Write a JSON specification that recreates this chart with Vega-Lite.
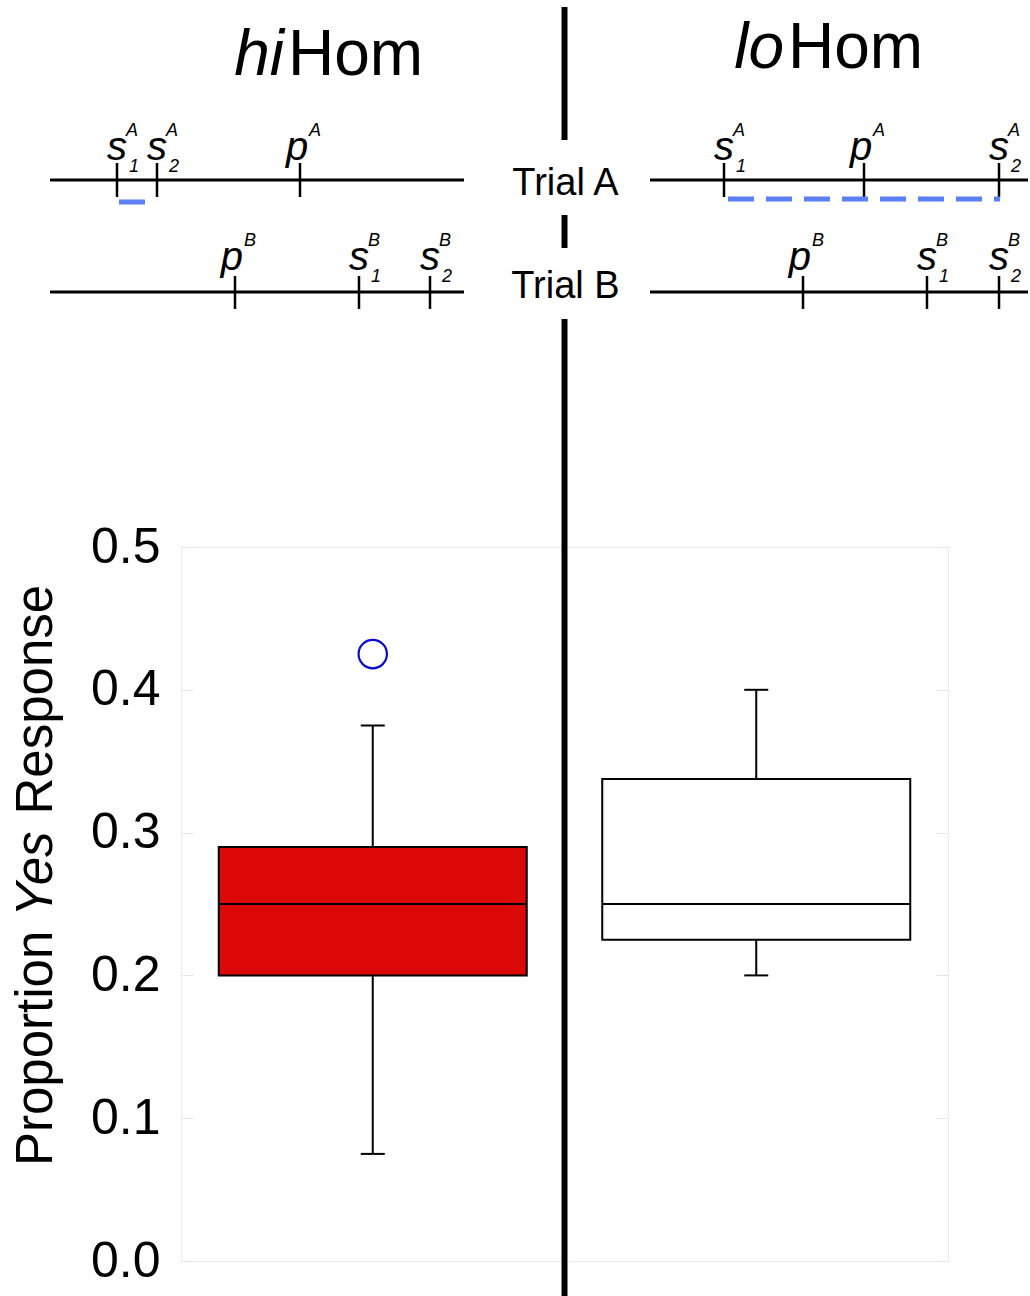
{
  "$schema": "https://vega.github.io/schema/vega-lite/v6.json",
  "width": 767,
  "height": 714,
  "autosize": {"type": "none"},
  "padding": {"left": 181, "top": 547, "right": 82, "bottom": 35},
  "background": "white",
  "config": {
    "view": {"stroke": "#e8e8f6", "strokeWidth": 1},
    "font": "Liberation Sans",
    "text": {"font": "Liberation Sans", "color": "black"},
    "scale": {"continuousPadding": 0}
  },
  "datasets": {
    "boxes": [
      {"cond": "hiHom", "pos": 1, "lower": 0.075, "q1": 0.2, "median": 0.25, "q3": 0.29, "upper": 0.375},
      {"cond": "loHom", "pos": 2, "lower": 0.2, "q1": 0.225, "median": 0.25, "q3": 0.3375, "upper": 0.4}
    ],
    "outliers": [
      {"cond": "hiHom", "pos": 1, "value": 0.425}
    ],
    "divider": [
      {"pos": 1.5, "top": 0.8782, "bottom": 0.785},
      {"pos": 1.5, "top": 0.7325, "bottom": 0.7094},
      {"pos": 1.5, "top": 0.6597, "bottom": -0.03}
    ],
    "numberLines": [
      {"panel": "hiHom", "trial": "A", "start": 0.1584, "end": 1.2379, "level": 0.757},
      {"panel": "hiHom", "trial": "B", "start": 0.1584, "end": 1.2379, "level": 0.6786},
      {"panel": "loHom", "trial": "A", "start": 1.7229, "end": 2.7086, "level": 0.757},
      {"panel": "loHom", "trial": "B", "start": 1.7229, "end": 2.7086, "level": 0.6786}
    ],
    "stimuli": [
      {"panel": "hiHom", "trial": "A", "glyph": "s", "sup": "A", "sub": "1", "pos": 0.3331, "top": 0.7689, "bottom": 0.7451, "base": 0.771},
      {"panel": "hiHom", "trial": "A", "glyph": "s", "sup": "A", "sub": "2", "pos": 0.4374, "top": 0.7689, "bottom": 0.7451, "base": 0.771},
      {"panel": "hiHom", "trial": "A", "glyph": "p", "sup": "A", "sub": "", "pos": 0.8103, "top": 0.7689, "bottom": 0.7451, "base": 0.771},
      {"panel": "hiHom", "trial": "B", "glyph": "p", "sup": "B", "sub": "", "pos": 0.6408, "top": 0.6898, "bottom": 0.6667, "base": 0.694},
      {"panel": "hiHom", "trial": "B", "glyph": "s", "sup": "B", "sub": "1", "pos": 0.9641, "top": 0.6898, "bottom": 0.6667, "base": 0.694},
      {"panel": "hiHom", "trial": "B", "glyph": "s", "sup": "B", "sub": "2", "pos": 1.1493, "top": 0.6898, "bottom": 0.6667, "base": 0.694},
      {"panel": "loHom", "trial": "A", "glyph": "s", "sup": "A", "sub": "1", "pos": 1.9159, "top": 0.7689, "bottom": 0.7451, "base": 0.771},
      {"panel": "loHom", "trial": "A", "glyph": "p", "sup": "A", "sub": "", "pos": 2.281, "top": 0.7689, "bottom": 0.7451, "base": 0.771},
      {"panel": "loHom", "trial": "A", "glyph": "s", "sup": "A", "sub": "2", "pos": 2.633, "top": 0.7689, "bottom": 0.7451, "base": 0.771},
      {"panel": "loHom", "trial": "B", "glyph": "p", "sup": "B", "sub": "", "pos": 2.1219, "top": 0.6898, "bottom": 0.6667, "base": 0.694},
      {"panel": "loHom", "trial": "B", "glyph": "s", "sup": "B", "sub": "1", "pos": 2.4452, "top": 0.6898, "bottom": 0.6667, "base": 0.694},
      {"panel": "loHom", "trial": "B", "glyph": "s", "sup": "B", "sub": "2", "pos": 2.633, "top": 0.6898, "bottom": 0.6667, "base": 0.694}
    ],
    "solidRange": [
      {"panel": "hiHom", "start": 0.3383, "end": 0.4061, "level": 0.7416}
    ],
    "dashedRange": [
      {"panel": "loHom", "start": 1.9263, "end": 2.6356, "level": 0.7437}
    ],
    "titles": [
      {"italic": "hi", "roman": "Hom", "pos": 0.7686, "base": 0.8305},
      {"italic": "lo", "roman": "Hom", "pos": 2.0724, "base": 0.8354}
    ],
    "trials": [
      {"label": "Trial A", "pos": 1.5, "base": 0.7465},
      {"label": "Trial B", "pos": 1.5, "base": 0.6744}
    ],
    "yTitle": [
      {"word": "Proportion", "style": "roman", "pos": 0.1636, "at": 0.0665},
      {"word": "Yes", "style": "italic", "pos": 0.1636, "at": 0.2412},
      {"word": "Response", "style": "roman", "pos": 0.1636, "at": 0.3127}
    ]
  },
  "resolve": {"axis": {"y": "independent"}},
  "layer": [
    {
      "data": {"name": "boxes"},
      "mark": {"type": "rule", "color": "black", "strokeWidth": 2},
      "encoding": {
        "x": {"field": "pos", "type": "quantitative", "scale": {"domain": [0.5, 2.5], "nice": false, "zero": false, "padding": 0}, "axis": null},
        "y": {"field": "upper", "type": "quantitative", "scale": {"domain": [0, 0.5], "nice": false, "zero": false, "padding": 0},
          "axis": {"orient": "left", "values": [0, 0.1, 0.2, 0.3, 0.4, 0.5], "format": ".1f", "labelFontSize": 50, "labelColor": "black", "labelFont": "Liberation Sans", "labelPadding": 33, "tickSize": -12, "tickColor": "#e4e4f4", "tickWidth": 1, "domain": false, "grid": false, "title": null}},
        "y2": {"field": "lower"}
      }
    },
    {
      "data": {"name": "boxes"},
      "mark": {"type": "bar", "size": 308, "stroke": "black", "strokeWidth": 2},
      "encoding": {
        "x": {"field": "pos", "type": "quantitative", "scale": {"domain": [0.5, 2.5], "nice": false, "zero": false, "padding": 0}, "axis": null},
        "y": {"field": "q1", "type": "quantitative", "scale": {"domain": [0, 0.5], "nice": false, "zero": false, "padding": 0},
          "axis": {"orient": "right", "values": [0, 0.1, 0.2, 0.3, 0.4, 0.5], "labels": false, "tickSize": -12, "tickColor": "#e4e4f4", "tickWidth": 1, "domain": false, "grid": false, "title": null}},
        "y2": {"field": "q3"},
        "color": {"field": "cond", "type": "nominal", "scale": {"domain": ["hiHom", "loHom"], "range": ["#dc0707", "#ffffff"]}, "legend": null}
      }
    },
    {
      "data": {"name": "boxes"},
      "mark": {"type": "tick", "orient": "horizontal", "size": 308, "thickness": 2, "color": "black", "opacity": 1},
      "encoding": {
        "x": {"field": "pos", "type": "quantitative", "scale": {"domain": [0.5, 2.5], "nice": false, "zero": false, "padding": 0}, "axis": null},
        "y": {"field": "median", "type": "quantitative", "scale": {"domain": [0, 0.5], "nice": false, "zero": false, "padding": 0}, "axis": null}
      }
    },
    {
      "data": {"name": "boxes"},
      "mark": {"type": "tick", "orient": "horizontal", "size": 24, "thickness": 2, "color": "black", "opacity": 1},
      "encoding": {
        "x": {"field": "pos", "type": "quantitative", "scale": {"domain": [0.5, 2.5], "nice": false, "zero": false, "padding": 0}, "axis": null},
        "y": {"field": "upper", "type": "quantitative", "scale": {"domain": [0, 0.5], "nice": false, "zero": false, "padding": 0}, "axis": null}
      }
    },
    {
      "data": {"name": "boxes"},
      "mark": {"type": "tick", "orient": "horizontal", "size": 24, "thickness": 2, "color": "black", "opacity": 1},
      "encoding": {
        "x": {"field": "pos", "type": "quantitative", "scale": {"domain": [0.5, 2.5], "nice": false, "zero": false, "padding": 0}, "axis": null},
        "y": {"field": "lower", "type": "quantitative", "scale": {"domain": [0, 0.5], "nice": false, "zero": false, "padding": 0}, "axis": null}
      }
    },
    {
      "data": {"name": "outliers"},
      "mark": {"type": "point", "shape": "circle", "filled": false, "size": 804, "stroke": "#0a0acc", "strokeWidth": 2.2, "opacity": 1},
      "encoding": {
        "x": {"field": "pos", "type": "quantitative", "scale": {"domain": [0.5, 2.5], "nice": false, "zero": false, "padding": 0}, "axis": null},
        "y": {"field": "value", "type": "quantitative", "scale": {"domain": [0, 0.5], "nice": false, "zero": false, "padding": 0}, "axis": null}
      }
    },
    {
      "data": {"name": "divider"},
      "mark": {"type": "rule", "color": "black", "strokeWidth": 6},
      "encoding": {
        "x": {"field": "pos", "type": "quantitative", "scale": {"domain": [0.5, 2.5], "nice": false, "zero": false, "padding": 0}, "axis": null},
        "y": {"field": "top", "type": "quantitative", "scale": {"domain": [0, 0.5], "nice": false, "zero": false, "padding": 0}, "axis": null},
        "y2": {"field": "bottom"}
      }
    },
    {
      "data": {"name": "numberLines"},
      "mark": {"type": "rule", "color": "black", "strokeWidth": 3},
      "encoding": {
        "x": {"field": "start", "type": "quantitative", "scale": {"domain": [0.5, 2.5], "nice": false, "zero": false, "padding": 0}, "axis": null},
        "x2": {"field": "end"},
        "y": {"field": "level", "type": "quantitative", "scale": {"domain": [0, 0.5], "nice": false, "zero": false, "padding": 0}, "axis": null}
      }
    },
    {
      "data": {"name": "stimuli"},
      "mark": {"type": "rule", "color": "black", "strokeWidth": 2.5},
      "encoding": {
        "x": {"field": "pos", "type": "quantitative", "scale": {"domain": [0.5, 2.5], "nice": false, "zero": false, "padding": 0}, "axis": null},
        "y": {"field": "top", "type": "quantitative", "scale": {"domain": [0, 0.5], "nice": false, "zero": false, "padding": 0}, "axis": null},
        "y2": {"field": "bottom"}
      }
    },
    {
      "data": {"name": "solidRange"},
      "mark": {"type": "rule", "color": "#5b80f5", "strokeWidth": 5},
      "encoding": {
        "x": {"field": "start", "type": "quantitative", "scale": {"domain": [0.5, 2.5], "nice": false, "zero": false, "padding": 0}, "axis": null},
        "x2": {"field": "end"},
        "y": {"field": "level", "type": "quantitative", "scale": {"domain": [0, 0.5], "nice": false, "zero": false, "padding": 0}, "axis": null}
      }
    },
    {
      "data": {"name": "dashedRange"},
      "mark": {"type": "rule", "color": "#5b80f5", "strokeWidth": 5, "strokeDash": [26, 12]},
      "encoding": {
        "x": {"field": "start", "type": "quantitative", "scale": {"domain": [0.5, 2.5], "nice": false, "zero": false, "padding": 0}, "axis": null},
        "x2": {"field": "end"},
        "y": {"field": "level", "type": "quantitative", "scale": {"domain": [0, 0.5], "nice": false, "zero": false, "padding": 0}, "axis": null}
      }
    },
    {
      "data": {"name": "stimuli"},
      "transform": [{"filter": "datum.glyph == 's'"}],
      "mark": {"type": "text", "fontSize": 40, "fontStyle": "italic", "align": "center", "baseline": "alphabetic", "dx": 0},
      "encoding": {
        "x": {"field": "pos", "type": "quantitative", "scale": {"domain": [0.5, 2.5], "nice": false, "zero": false, "padding": 0}, "axis": null},
        "y": {"field": "base", "type": "quantitative", "scale": {"domain": [0, 0.5], "nice": false, "zero": false, "padding": 0}, "axis": null},
        "text": {"field": "glyph"}
      }
    },
    {
      "data": {"name": "stimuli"},
      "transform": [{"filter": "datum.glyph == 'p'"}],
      "mark": {"type": "text", "fontSize": 40, "fontStyle": "italic", "align": "center", "baseline": "alphabetic", "dx": -3},
      "encoding": {
        "x": {"field": "pos", "type": "quantitative", "scale": {"domain": [0.5, 2.5], "nice": false, "zero": false, "padding": 0}, "axis": null},
        "y": {"field": "base", "type": "quantitative", "scale": {"domain": [0, 0.5], "nice": false, "zero": false, "padding": 0}, "axis": null},
        "text": {"field": "glyph"}
      }
    },
    {
      "data": {"name": "stimuli"},
      "mark": {"type": "text", "fontSize": 18, "fontStyle": "italic", "align": "left", "baseline": "alphabetic", "dx": 9, "dy": -24},
      "encoding": {
        "x": {"field": "pos", "type": "quantitative", "scale": {"domain": [0.5, 2.5], "nice": false, "zero": false, "padding": 0}, "axis": null},
        "y": {"field": "base", "type": "quantitative", "scale": {"domain": [0, 0.5], "nice": false, "zero": false, "padding": 0}, "axis": null},
        "text": {"field": "sup"}
      }
    },
    {
      "data": {"name": "stimuli"},
      "mark": {"type": "text", "fontSize": 18, "fontStyle": "italic", "align": "left", "baseline": "alphabetic", "dx": 12, "dy": 12},
      "encoding": {
        "x": {"field": "pos", "type": "quantitative", "scale": {"domain": [0.5, 2.5], "nice": false, "zero": false, "padding": 0}, "axis": null},
        "y": {"field": "base", "type": "quantitative", "scale": {"domain": [0, 0.5], "nice": false, "zero": false, "padding": 0}, "axis": null},
        "text": {"field": "sub"}
      }
    },
    {
      "data": {"name": "titles"},
      "mark": {"type": "text", "fontSize": 64, "fontStyle": "italic", "align": "right", "baseline": "alphabetic"},
      "encoding": {
        "x": {"field": "pos", "type": "quantitative", "scale": {"domain": [0.5, 2.5], "nice": false, "zero": false, "padding": 0}, "axis": null},
        "y": {"field": "base", "type": "quantitative", "scale": {"domain": [0, 0.5], "nice": false, "zero": false, "padding": 0}, "axis": null},
        "text": {"field": "italic"}
      }
    },
    {
      "data": {"name": "titles"},
      "mark": {"type": "text", "fontSize": 64, "align": "left", "baseline": "alphabetic", "dx": 4},
      "encoding": {
        "x": {"field": "pos", "type": "quantitative", "scale": {"domain": [0.5, 2.5], "nice": false, "zero": false, "padding": 0}, "axis": null},
        "y": {"field": "base", "type": "quantitative", "scale": {"domain": [0, 0.5], "nice": false, "zero": false, "padding": 0}, "axis": null},
        "text": {"field": "roman"}
      }
    },
    {
      "data": {"name": "trials"},
      "mark": {"type": "text", "fontSize": 38, "align": "center", "baseline": "alphabetic", "dx": 1},
      "encoding": {
        "x": {"field": "pos", "type": "quantitative", "scale": {"domain": [0.5, 2.5], "nice": false, "zero": false, "padding": 0}, "axis": null},
        "y": {"field": "base", "type": "quantitative", "scale": {"domain": [0, 0.5], "nice": false, "zero": false, "padding": 0}, "axis": null},
        "text": {"field": "label"}
      }
    },
    {
      "data": {"name": "yTitle"},
      "transform": [{"filter": "datum.style == 'roman'"}],
      "mark": {"type": "text", "fontSize": 51, "angle": 270, "align": "left", "baseline": "alphabetic"},
      "encoding": {
        "x": {"field": "pos", "type": "quantitative", "scale": {"domain": [0.5, 2.5], "nice": false, "zero": false, "padding": 0}, "axis": null},
        "y": {"field": "at", "type": "quantitative", "scale": {"domain": [0, 0.5], "nice": false, "zero": false, "padding": 0}, "axis": null},
        "text": {"field": "word"}
      }
    },
    {
      "data": {"name": "yTitle"},
      "transform": [{"filter": "datum.style == 'italic'"}],
      "mark": {"type": "text", "fontSize": 51, "fontStyle": "italic", "angle": 270, "align": "left", "baseline": "alphabetic"},
      "encoding": {
        "x": {"field": "pos", "type": "quantitative", "scale": {"domain": [0.5, 2.5], "nice": false, "zero": false, "padding": 0}, "axis": null},
        "y": {"field": "at", "type": "quantitative", "scale": {"domain": [0, 0.5], "nice": false, "zero": false, "padding": 0}, "axis": null},
        "text": {"field": "word"}
      }
    }
  ]
}
